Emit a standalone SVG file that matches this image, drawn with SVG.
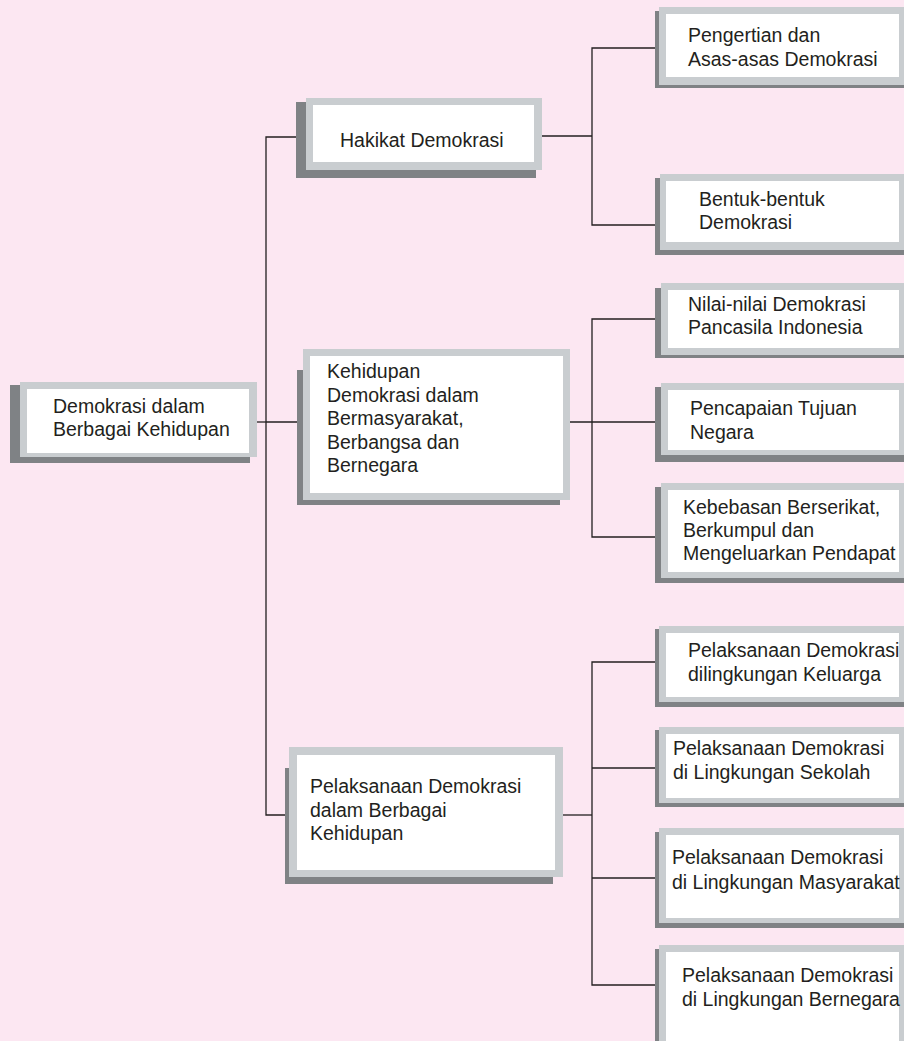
<svg xmlns="http://www.w3.org/2000/svg" width="904" height="1041" viewBox="0 0 904 1041">
<style>
.bg{fill:#fce7f2}
.sh{fill:#7f8285}
.fr{fill:#c9cdd0}
.in{fill:#ffffff}
.t{font-family:"Liberation Sans",Arial,sans-serif;font-size:19.5px;fill:#231f20}
.c{fill:none;stroke:#231f20;stroke-width:1.3}
</style>
<rect class="bg" x="0" y="0" width="904" height="1041"/>
<g id="connectors">
<path class="c" d="M257 422 H266"/>
<path class="c" d="M306 137 H266 V815 H289"/>
<path class="c" d="M266 422 H303"/>
<path class="c" d="M542 136 H592"/>
<path class="c" d="M659 48 H592 V225 H660"/>
<path class="c" d="M570 422 H661"/>
<path class="c" d="M661 319 H592 V537 H661"/>
<path class="c" d="M563 815 H592"/>
<path class="c" d="M657 662 H592 V985 H659"/>
<path class="c" d="M592 768 H659"/>
<path class="c" d="M592 878 H659"/>
</g>
<g id="root">
<rect class="sh" x="10" y="385" width="240" height="78"/>
<rect class="fr" x="20" y="382" width="237" height="75"/>
<rect class="in" x="27" y="389" width="222" height="64"/>
<text class="t" x="53" y="413">Demokrasi dalam</text>
<text class="t" x="53" y="436">Berbagai Kehidupan</text>
</g>
<g id="hakikat">
<rect class="sh" x="296" y="102" width="240" height="76"/>
<rect class="fr" x="306" y="98" width="236" height="72"/>
<rect class="in" x="313" y="105" width="221" height="57"/>
<text class="t" x="340" y="147">Hakikat Demokrasi</text>
</g>
<g id="kehidupan">
<rect class="sh" x="297" y="370" width="263" height="135"/>
<rect class="fr" x="303" y="349" width="267" height="151"/>
<rect class="in" x="310" y="356" width="253" height="137"/>
<text class="t" x="327" y="378">Kehidupan</text>
<text class="t" x="327" y="402">Demokrasi dalam</text>
<text class="t" x="327" y="425">Bermasyarakat,</text>
<text class="t" x="327" y="449">Berbangsa dan</text>
<text class="t" x="327" y="472">Bernegara</text>
</g>
<g id="pelaksanaan">
<rect class="sh" x="285" y="768" width="268" height="116"/>
<rect class="fr" x="289" y="747" width="274" height="130"/>
<rect class="in" x="297" y="755" width="258" height="115"/>
<text class="t" x="310" y="793">Pelaksanaan Demokrasi</text>
<text class="t" x="310" y="817">dalam Berbagai</text>
<text class="t" x="310" y="840">Kehidupan</text>
</g>
<g id="pengertian">
<rect class="sh" x="655" y="11" width="260" height="77"/>
<rect class="fr" x="659" y="7" width="260" height="78"/>
<rect class="in" x="666" y="14" width="233" height="63"/>
<text class="t" x="688" y="42">Pengertian dan</text>
<text class="t" x="688" y="66">Asas-asas Demokrasi</text>
</g>
<g id="bentuk">
<rect class="sh" x="655" y="178" width="260" height="77"/>
<rect class="fr" x="660" y="174" width="260" height="76"/>
<rect class="in" x="666" y="181" width="233" height="61"/>
<text class="t" x="699" y="206">Bentuk-bentuk</text>
<text class="t" x="699" y="229">Demokrasi</text>
</g>
<g id="nilai">
<rect class="sh" x="655" y="288" width="260" height="70"/>
<rect class="fr" x="661" y="283" width="260" height="72"/>
<rect class="in" x="668" y="290" width="231" height="58"/>
<text class="t" x="688" y="311">Nilai-nilai Demokrasi</text>
<text class="t" x="688" y="334">Pancasila Indonesia</text>
</g>
<g id="pencapaian">
<rect class="sh" x="655" y="387" width="260" height="75"/>
<rect class="fr" x="661" y="383" width="260" height="72"/>
<rect class="in" x="668" y="390" width="231" height="60"/>
<text class="t" x="690" y="415">Pencapaian Tujuan</text>
<text class="t" x="690" y="439">Negara</text>
</g>
<g id="kebebasan">
<rect class="sh" x="655" y="487" width="260" height="96"/>
<rect class="fr" x="661" y="483" width="260" height="95"/>
<rect class="in" x="668" y="490" width="231" height="82"/>
<text class="t" x="683" y="514">Kebebasan Berserikat,</text>
<text class="t" x="683" y="537">Berkumpul dan</text>
<text class="t" x="683" y="560">Mengeluarkan Pendapat</text>
</g>
<g id="keluarga">
<rect class="sh" x="655" y="629" width="260" height="78"/>
<rect class="fr" x="659" y="626" width="260" height="76"/>
<rect class="in" x="666" y="633" width="233" height="64"/>
<text class="t" x="688" y="657">Pelaksanaan Demokrasi</text>
<text class="t" x="688" y="681">dilingkungan Keluarga</text>
</g>
<g id="sekolah">
<rect class="sh" x="655" y="730" width="260" height="77"/>
<rect class="fr" x="659" y="727" width="260" height="76"/>
<rect class="in" x="666" y="734" width="233" height="64"/>
<text class="t" x="673" y="755">Pelaksanaan Demokrasi</text>
<text class="t" x="673" y="779">di Lingkungan Sekolah</text>
</g>
<g id="masyarakat">
<rect class="sh" x="655" y="832" width="260" height="96"/>
<rect class="fr" x="659" y="828" width="260" height="95"/>
<rect class="in" x="666" y="835" width="233" height="83"/>
<text class="t" x="672" y="864">Pelaksanaan Demokrasi</text>
<text class="t" x="672" y="889">di Lingkungan Masyarakat</text>
</g>
<g id="bernegara">
<rect class="sh" x="655" y="949" width="260" height="100"/>
<rect class="fr" x="659" y="945" width="260" height="100"/>
<rect class="in" x="666" y="952" width="233" height="95"/>
<text class="t" x="682" y="982">Pelaksanaan Demokrasi</text>
<text class="t" x="682" y="1006">di Lingkungan Bernegara</text>
</g>
</svg>
